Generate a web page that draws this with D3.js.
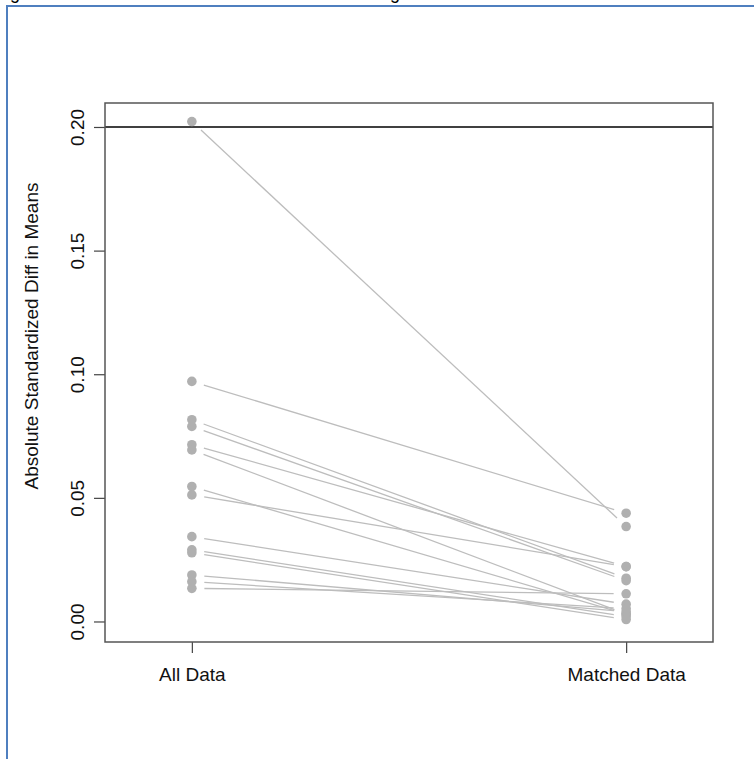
<!DOCTYPE html>
<html>
<head>
<meta charset="utf-8">
<script src="https://cdn.jsdelivr.net/npm/d3@7"></script>
<style>
  body { margin: 0; background: #fff; }
  svg { display: block; font-family: "Liberation Sans", Arial, Helvetica, sans-serif; }
</style>
</head>
<body>
<div id="chart"></div>
<script>
// groups on the x axis
var groups = ["All Data", "Matched Data"];
// absolute standardized difference in means, one entry per covariate
var allData = [0.2022, 0.0971, 0.0816, 0.0789, 0.0715, 0.0694, 0.0546, 0.0512, 0.0343, 0.0290, 0.0278, 0.0188, 0.0161, 0.0134];
var matchedData = [0.0384, 0.0438, 0.0175, 0.0165, 0.0222, 0.0030, 0.0030, 0.0222, 0.0070, 0.0020, 0.0008, 0.0040, 0.0052, 0.0112];
var yTicks = [0.00, 0.05, 0.10, 0.15, 0.20];
var threshold = 0.2;

function init() {
    var w = 754, h = 759;
    var box = { left: 105, right: 713, top: 103, bottom: 642 };
    var fontSize = 19;

    var svg = d3.select("#chart").append("svg")
        .attr("width", w)
        .attr("height", h);

    // page frame (only top and left edges visible)
    svg.append("rect")
        .attr("x", 7).attr("y", 6)
        .attr("width", 800).attr("height", 800)
        .attr("fill", "none")
        .attr("stroke", "#4f7fbf")
        .attr("stroke-width", 2);

    // caption text above the frame, clipped by the page edge as in the source
    [15, 395].forEach(function (gx) {
        svg.append("text")
            .attr("x", gx).attr("y", -1)
            .attr("font-size", 18)
            .attr("text-anchor", "middle")
            .attr("fill", "#000")
            .text("g");
    });

    var x = d3.scalePoint()
        .domain(groups)
        .range([box.left, box.right])
        .padding(0.2);

    var y = d3.scaleLinear()
        .domain([-0.0083, 0.2097])
        .range([box.bottom, box.top]);

    // y axis
    var yAxis = d3.axisLeft(y)
        .tickValues(yTicks)
        .tickSize(11)
        .tickFormat(d3.format(".2f"));

    var gy = svg.append("g")
        .attr("transform", "translate(" + box.left + ",0)")
        .call(yAxis);
    gy.select(".domain").remove();
    gy.selectAll(".tick line").attr("stroke", "#444").attr("stroke-width", 1.2);
    gy.selectAll(".tick text")
        .attr("x", 0)
        .attr("dy", "0.35em")
        .attr("text-anchor", "middle")
        .attr("transform", "translate(" + (77 - box.left) + ",0) rotate(-90)")
        .attr("font-size", fontSize)
        .attr("fill", "#111");

    // x axis
    var xAxis = d3.axisBottom(x)
        .tickSize(11)
        .tickPadding(15);

    var gx = svg.append("g")
        .attr("transform", "translate(0," + box.bottom + ")")
        .call(xAxis);
    gx.select(".domain").remove();
    gx.selectAll(".tick line").attr("stroke", "#444").attr("stroke-width", 1.2);
    gx.selectAll(".tick text")
        .attr("font-size", fontSize)
        .attr("fill", "#111");

    // y axis title
    svg.append("text")
        .attr("transform", "translate(31," + 336 + ") rotate(-90)")
        .attr("dy", "0.35em")
        .attr("text-anchor", "middle")
        .attr("font-size", fontSize)
        .attr("fill", "#111")
        .text("Absolute Standardized Diff in Means");

    // threshold line
    svg.append("line")
        .attr("x1", box.left).attr("x2", box.right)
        .attr("y1", y(threshold)).attr("y2", y(threshold))
        .attr("stroke", "#000")
        .attr("stroke-width", 1.3);

    // connecting segments, stopped short of the points (like type = "b")
    var gap = 12.5;
    var pairs = allData.map(function (v, i) {
        return { a: v, b: matchedData[i] };
    });

    svg.append("g").selectAll("line")
        .data(pairs)
        .enter().append("line")
        .each(function (d) {
            var x0 = x(groups[0]), y0 = y(d.a);
            var x1 = x(groups[1]), y1 = y(d.b);
            var len = Math.sqrt((x1 - x0) * (x1 - x0) + (y1 - y0) * (y1 - y0));
            var ux = (x1 - x0) / len, uy = (y1 - y0) / len;
            d3.select(this)
                .attr("x1", x0 + ux * gap).attr("y1", y0 + uy * gap)
                .attr("x2", x1 - ux * gap).attr("y2", y1 - uy * gap);
        })
        .attr("stroke", "#bdbdbd")
        .attr("stroke-width", 1.3);

    // points
    var pts = svg.append("g");
    pts.selectAll(".p0")
        .data(allData)
        .enter().append("circle")
        .attr("class", "p0")
        .attr("cx", x(groups[0]))
        .attr("cy", function (d) { return y(d); })
        .attr("r", 4.8)
        .attr("fill", "#b0b0b0");

    pts.selectAll(".p1")
        .data(matchedData)
        .enter().append("circle")
        .attr("class", "p1")
        .attr("cx", x(groups[1]))
        .attr("cy", function (d) { return y(d); })
        .attr("r", 4.8)
        .attr("fill", "#b0b0b0");

    // plot box
    svg.append("rect")
        .attr("x", box.left).attr("y", box.top)
        .attr("width", box.right - box.left)
        .attr("height", box.bottom - box.top)
        .attr("fill", "none")
        .attr("stroke", "#555")
        .attr("stroke-width", 1.5);
}

window.onload = init;
</script>
</body>
</html>
